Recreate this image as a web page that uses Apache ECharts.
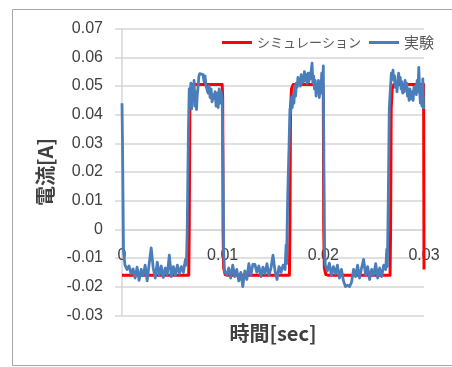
<!DOCTYPE html>
<html>
<head>
<meta charset="utf-8">
<script src="https://cdn.jsdelivr.net/npm/echarts@6/dist/echarts.min.js"></script>
<style>
  html, body { margin: 0; padding: 0; background: #ffffff; }
  #chart { width: 452px; height: 367px; }
</style>
</head>
<body>
<div id="chart"></div>
<script>
// Series names
const seriesNames = ['シミュレーション', '実験'];

// Axis range [s] / [A]
const timeRange = [0, 0.03, 0.01];
const currentRange = [-0.03, 0.07, 0.01];

// Simulated current [time s, current A]
const simulation = [
  [0, -0.016], [0.00663, -0.016], [0.00668, 0.0], [0.00674, 0.042], [0.00684, 0.049], [0.0070, 0.0505],
  [0.00995, 0.0505], [0.01000, 0.046], [0.01004, 0.0], [0.01010, -0.0135], [0.01025, -0.0158], [0.0105, -0.016],
  [0.01663, -0.016], [0.01668, 0.0], [0.01674, 0.042], [0.01684, 0.049], [0.0170, 0.0505],
  [0.01995, 0.0505], [0.02000, 0.046], [0.02004, 0.0], [0.02010, -0.0135], [0.02025, -0.0158], [0.0205, -0.016],
  [0.02663, -0.016], [0.02668, 0.0], [0.02674, 0.042], [0.02684, 0.049], [0.0270, 0.0505],
  [0.02996, 0.0505], [0.03, -0.014]
];

// Measured current [time s, current A]
const experiment = [
  [0, 0.044], [0.00005, 0.030], [0.00015, -0.008],
  [0.0003, -0.0125], [0.0005, -0.0140], [0.0007, -0.0128], [0.0009, -0.0155], [0.0011, -0.0138],
  [0.0013, -0.0170], [0.0015, -0.0132], [0.0017, -0.0178], [0.0019, -0.0140], [0.0021, -0.0162],
  [0.0023, -0.0125], [0.0025, -0.0180], [0.0027, -0.0120], [0.0029, -0.0065], [0.0031, -0.0135],
  [0.0033, -0.0170], [0.0035, -0.0115], [0.0037, -0.0160], [0.0039, -0.0128], [0.0041, -0.0168],
  [0.0043, -0.0135], [0.0045, -0.0158], [0.0047, -0.0090], [0.0049, -0.0165], [0.0051, -0.0130],
  [0.0053, -0.0160], [0.0055, -0.0125], [0.0057, -0.0155], [0.0059, -0.0130], [0.0061, -0.0150],
  [0.0063, -0.0105], [0.0064, -0.0125],
  [0.00648, 0.000], [0.00660, 0.035], [0.00668, 0.049], [0.00676, 0.044], [0.00684, 0.051],
  [0.00692, 0.042], [0.00700, 0.050], [0.00708, 0.045], [0.00716, 0.052], [0.00724, 0.043],
  [0.00732, 0.048], [0.00740, 0.0418], [0.00748, 0.047], [0.00756, 0.050], [0.00764, 0.0535],
  [0.00772, 0.0543], [0.00790, 0.0543], [0.00805, 0.0540], [0.00815, 0.0515], [0.00825, 0.0535],
  [0.00835, 0.050], [0.00845, 0.0505], [0.00855, 0.0475], [0.00865, 0.050], [0.00875, 0.046],
  [0.00885, 0.049], [0.00895, 0.0445], [0.00905, 0.047], [0.00915, 0.0455], [0.00925, 0.048],
  [0.00935, 0.0430], [0.00945, 0.0475], [0.00955, 0.0425], [0.00965, 0.049], [0.00975, 0.0440],
  [0.00985, 0.048], [0.00995, 0.0455], [0.01005, 0.020], [0.01010, -0.008], [0.01018, -0.0145],
  [0.0104, -0.0160], [0.0106, -0.0135], [0.0108, -0.0170], [0.0110, -0.0125], [0.0112, -0.0165],
  [0.0114, -0.0140], [0.0116, -0.0180], [0.0118, -0.0150], [0.0120, -0.0200], [0.0122, -0.0145],
  [0.0124, -0.0175], [0.0126, -0.0120], [0.0128, -0.0160], [0.0130, -0.0122], [0.0132, -0.0122],
  [0.0134, -0.0150], [0.0136, -0.0128], [0.0138, -0.0165], [0.0140, -0.0132], [0.0142, -0.0155],
  [0.0144, -0.0120], [0.0146, -0.0160], [0.0148, -0.0135], [0.0150, -0.0090], [0.0152, -0.0145],
  [0.0154, -0.0175], [0.0156, -0.0130], [0.0158, -0.0150], [0.0160, -0.0125], [0.0162, -0.0140],
  [0.0163, -0.0055], [0.01635, -0.0120], [0.01645, 0.010], [0.01660, 0.030],
  [0.01668, 0.042], [0.01676, 0.0405], [0.01684, 0.046], [0.01692, 0.0425], [0.01700, 0.047],
  [0.01708, 0.044], [0.01716, 0.050], [0.01724, 0.0465], [0.01732, 0.051], [0.01740, 0.0495],
  [0.01748, 0.053], [0.01756, 0.0505], [0.01764, 0.052], [0.01772, 0.0500], [0.01780, 0.054],
  [0.01788, 0.051], [0.01796, 0.053], [0.01804, 0.0515], [0.01812, 0.0550], [0.01820, 0.0520],
  [0.01828, 0.0540], [0.01836, 0.0510], [0.01840, 0.0530], [0.01848, 0.0545], [0.01856, 0.0515],
  [0.01864, 0.0545], [0.01872, 0.0525], [0.01880, 0.0555], [0.01888, 0.0580], [0.01896, 0.0510],
  [0.01904, 0.0535], [0.01912, 0.0490], [0.01920, 0.0520], [0.01928, 0.0465], [0.01936, 0.0505],
  [0.01944, 0.0480], [0.01952, 0.0520], [0.01960, 0.0460], [0.01968, 0.0500], [0.01976, 0.0475],
  [0.01984, 0.0545], [0.01992, 0.0500], [0.02000, 0.0570], [0.02006, 0.020], [0.02012, -0.008],
  [0.0202, -0.0125], [0.0204, -0.0145], [0.0206, -0.0118], [0.0208, -0.0160], [0.0210, -0.0130],
  [0.0212, -0.0155], [0.0214, -0.0125], [0.0216, -0.0170], [0.0218, -0.0140], [0.0220, -0.0180],
  [0.0222, -0.0200], [0.0224, -0.0195], [0.0226, -0.0200], [0.0228, -0.0185], [0.0230, -0.0140],
  [0.0232, -0.0165], [0.0234, -0.0125], [0.0236, -0.0170], [0.0238, -0.0135], [0.0240, -0.0105],
  [0.0242, -0.0160], [0.0244, -0.0130], [0.0246, -0.0175], [0.0248, -0.0140], [0.0250, -0.0160],
  [0.0252, -0.0120], [0.0254, -0.0170], [0.0256, -0.0135], [0.0258, -0.0165], [0.0260, -0.0125],
  [0.0262, -0.0140], [0.0263, -0.0070], [0.02636, -0.0130], [0.02645, 0.010], [0.02655, 0.042],
  [0.02668, 0.050], [0.02676, 0.0545], [0.02684, 0.0525], [0.02692, 0.0555], [0.02700, 0.0520],
  [0.02708, 0.0535], [0.02716, 0.0495], [0.02724, 0.0510], [0.02732, 0.0480], [0.02740, 0.0520],
  [0.02748, 0.0545], [0.02756, 0.0515], [0.02764, 0.0530], [0.02772, 0.0490], [0.02780, 0.0515],
  [0.02788, 0.0475], [0.02796, 0.0505], [0.02804, 0.0480], [0.02812, 0.0520], [0.02820, 0.0495],
  [0.02828, 0.0510], [0.02836, 0.0465], [0.02844, 0.0490], [0.02852, 0.0450], [0.02860, 0.0490],
  [0.02868, 0.0470], [0.02876, 0.0455], [0.02884, 0.0480], [0.02892, 0.0450], [0.02900, 0.0495],
  [0.02908, 0.0475], [0.02916, 0.0500], [0.02924, 0.0470], [0.02932, 0.0520], [0.02940, 0.0480],
  [0.02948, 0.0565], [0.02956, 0.0490], [0.02964, 0.0440], [0.02972, 0.0500], [0.02980, 0.0430],
  [0.02988, 0.0525], [0.02996, 0.0420]
];

const gridColor = '#d6d6d6';
const textColor = '#404040';
const latinFont = '"Liberation Sans", Arial, sans-serif';
const cjkFont = '"Noto Sans CJK JP", sans-serif';

function tickText(v) {
  if (Math.abs(v) < 1e-9) return '0';
  return v.toFixed(2);
}

const chart = echarts.init(document.getElementById('chart'), null, { renderer: 'canvas' });

chart.setOption({
  animation: false,
  backgroundColor: '#ffffff',
  graphic: [{
    type: 'rect',
    shape: { x: 12.5, y: 9.5, width: 460, height: 356 },
    style: { fill: 'none', stroke: '#a6a6a6', lineWidth: 1 },
    z: -10
  }],
  legend: {
    data: seriesNames,
    left: 217,
    top: 30,
    icon: 'rect',
    itemWidth: 30,
    itemHeight: 3,
    itemGap: 8,
    formatter: function (name) {
      return name === seriesNames[1] ? '{big|' + name + '}' : '{small|' + name + '}';
    },
    textStyle: {
      color: '#595959',
      rich: {
        small: { fontFamily: cjkFont, fontSize: 13, color: '#595959' },
        big: { fontFamily: cjkFont, fontSize: 15, color: '#595959' }
      }
    }
  },
  grid: { left: 122, right: 28, top: 28.7, bottom: 51.7, containLabel: false, outerBoundsMode: 'none' },
  xAxis: {
    type: 'value',
    min: timeRange[0], max: timeRange[1], interval: timeRange[2],
    axisLine: { onZero: true, lineStyle: { color: gridColor, width: 1.5 } },
    axisTick: { show: false },
    splitLine: { show: false },
    axisLabel: {
      // labels sit just under the zero line rather than at the grid bottom
      margin: -68,
      fontFamily: latinFont, fontSize: 16, color: textColor,
      formatter: tickText,
      showMinLabel: true, showMaxLabel: true
    },
    name: '時間[sec]',
    nameLocation: 'middle',
    nameGap: 8,
    nameTextStyle: { fontFamily: cjkFont, fontSize: 20, fontWeight: 'bold', color: textColor }
  },
  yAxis: {
    type: 'value',
    min: currentRange[0], max: currentRange[1], interval: currentRange[2],
    axisLine: { show: true, onZero: false, lineStyle: { color: gridColor, width: 1.5 } },
    axisTick: { show: true, length: 7, lineStyle: { color: gridColor, width: 1.5 } },
    splitLine: { show: true, lineStyle: { color: gridColor, width: 1.5 } },
    axisLabel: {
      margin: 19,
      fontFamily: latinFont, fontSize: 16, color: textColor,
      formatter: tickText
    },
    name: '電流[A]',
    nameLocation: 'middle',
    nameGap: 64,
    nameRotate: 90,
    nameTextStyle: { fontFamily: cjkFont, fontSize: 20, fontWeight: 'bold', color: textColor }
  },
  series: [
    {
      name: seriesNames[0],
      type: 'line',
      data: simulation,
      showSymbol: false,
      symbol: 'none',
      lineStyle: { color: '#ff0000', width: 3, join: 'round' },
      itemStyle: { color: '#ff0000' },
      z: 2
    },
    {
      name: seriesNames[1],
      type: 'line',
      data: experiment,
      showSymbol: false,
      symbol: 'none',
      lineStyle: { color: '#4a7ebb', width: 2.8, join: 'round' },
      itemStyle: { color: '#4a7ebb' },
      z: 3
    }
  ]
});
</script>
</body>
</html>
